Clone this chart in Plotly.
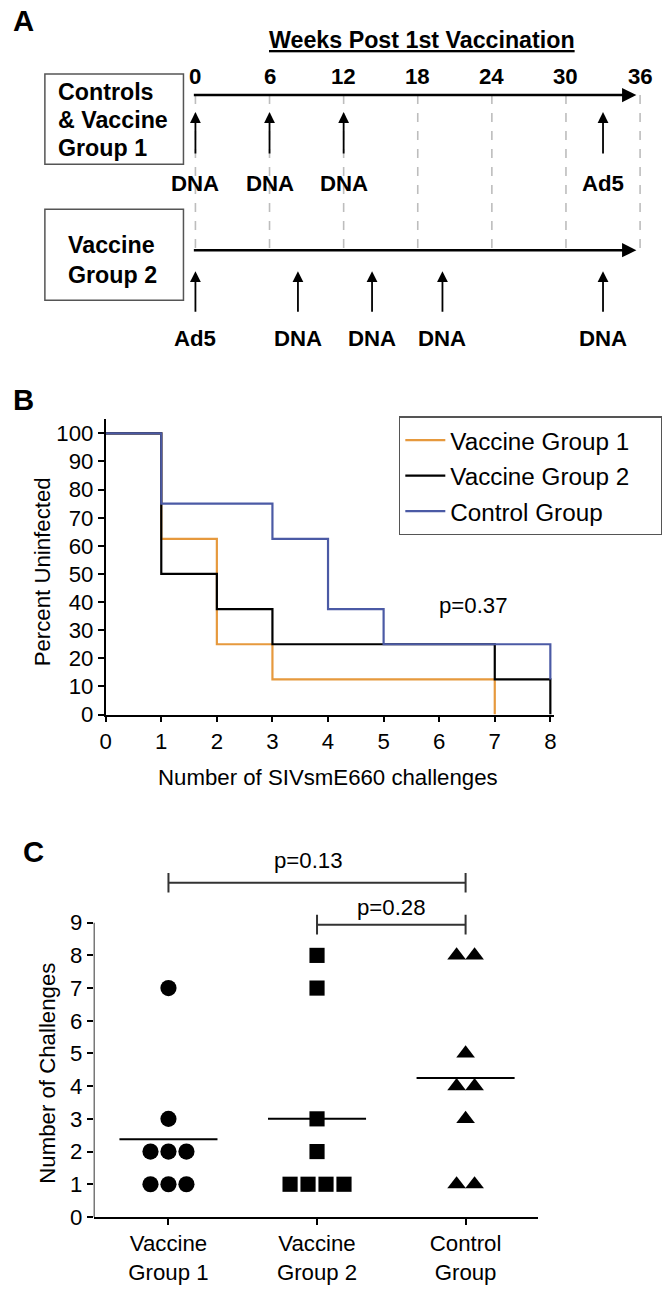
import numpy as np
import plotly.graph_objects as go

# reference-space size (all layout positions below are expressed in these pixels)
W, H = 662, 1289
# the capture in this environment is fitted from a slightly taller page; compensate
S = 1303 / 1289
FIG_W, FIG_H = round(W * S), 1303
FONT = "Liberation Sans, Arial, Helvetica, sans-serif"

# ---------------- Panel A data (vaccination schedule) ----------------
week_ticks = [0, 6, 12, 18, 24, 30, 36]
group1_dose_weeks = [0, 6, 12, 33]
group1_dose_labels = ["DNA", "DNA", "DNA", "Ad5"]
group2_dose_weeks = [0, 8.3, 14.3, 20, 33]
group2_dose_labels = ["Ad5", "DNA", "DNA", "DNA", "DNA"]
timeline_start_week = -0.25
timeline_end_week = 35.7

# ---------------- Panel B data (Kaplan-Meier) ----------------
challenge_ticks = [0, 1, 2, 3, 4, 5, 6, 7, 8]
percent_ticks = [0, 10, 20, 30, 40, 50, 60, 70, 80, 90, 100]
vg1_x = [0, 1, 2, 3, 7]
vg1_y = [100, 62.5, 25, 12.5, 0]
vg2_x = [0, 1, 2, 3, 7, 8]
vg2_y = [100, 50, 37.5, 25, 12.5, 0]
ctrl_x = [0, 1, 3, 4, 5, 8]
ctrl_y = [100, 75, 62.5, 37.5, 25, 12.5]
survival_p = "p=0.37"

# ---------------- Panel C data (challenges to infection) ----------------
group_labels = ["Vaccine<br>Group 1", "Vaccine<br>Group 2", "Control<br>Group"]
vg1_challenges = [7, 3, 2, 2, 2, 1, 1, 1]
vg2_challenges = [8, 7, 3, 2, 1, 1, 1, 1]
ctrl_challenges = [8, 8, 5, 4, 4, 3, 1, 1]
count_ticks = [0, 1, 2, 3, 4, 5, 6, 7, 8, 9]
p_vg1_ctrl = "p=0.13"
p_vg2_ctrl = "p=0.28"

ORANGE = "#E6993D"
BLUE = "#4B5AA5"


def pxx(x):
    return x / W


def pxy(y):
    return 1 - y / H


def fs(v):
    return v * S


fig = go.Figure()

# ---------- Panel B traces ----------
PAD = "\u00a0" * 4
for xs, ys, name, col in [(vg1_x, vg1_y, "Vaccine Group 1", ORANGE),
                          (vg2_x, vg2_y, "Vaccine Group 2", "black"),
                          (ctrl_x, ctrl_y, "Control Group", BLUE)]:
    fig.add_trace(go.Scatter(x=xs, y=ys, mode="lines", line=dict(shape="hv", color=col, width=2.2),
                             name=name + PAD, legendgroup=name, xaxis="x", yaxis="y"))

# ---------- Panel C traces ----------
def jitter(values, step):
    vals = np.array(values, dtype=float)
    off = np.zeros(len(vals))
    for v in np.unique(vals):
        idx = np.where(vals == v)[0]
        k = len(idx)
        off[idx] = (np.arange(k) - (k - 1) / 2) * step
    return off

STEP = 0.121
for gi, (vals, sym) in enumerate([(vg1_challenges, "circle"), (vg2_challenges, "square"),
                                  (ctrl_challenges, "triangle-up")]):
    xs = gi + jitter(vals, STEP)
    fig.add_trace(go.Scatter(x=xs, y=vals, mode="markers", showlegend=False,
                             marker=dict(symbol=sym, size=fs(16 if sym != "square" else 15), color="black"),
                             xaxis="x2", yaxis="y2", cliponaxis=False))
    m = float(np.mean(vals))
    fig.add_trace(go.Scatter(x=[gi - 0.33, gi + 0.33], y=[m, m], mode="lines", showlegend=False,
                             line=dict(color="black", width=2), xaxis="x2", yaxis="y2"))

# significance brackets
def bracket(x0, x1, y, h=0.3):
    return ([x0, x0, None, x0, x1, None, x1, x1], [y - h, y + h, None, y, y, None, y - h, y + h])

for (bx0, bx1, by) in [(0, 2, 10.22), (1, 2, 8.94)]:
    bxs, bys = bracket(bx0, bx1, by)
    fig.add_trace(go.Scatter(x=bxs, y=bys, mode="lines", showlegend=False,
                             line=dict(color="#333", width=2), xaxis="x2", yaxis="y2"))

# ---------- Panel A (schedule) ----------
wk_scale = 446 / 36.0
wk0 = 190
annotations = []
shapes = []

for w in week_ticks:
    shapes.append(dict(type="line", xref="x3", yref="y3", x0=w, x1=w, y0=95, y1=250,
                       line=dict(color="#BDBDBD", width=1.6, dash="dash")))
    annotations.append(dict(x=w, y=76, xref="x3", yref="y3", text="<b>%d</b>" % w, showarrow=False,
                            font=dict(size=fs(22), color="black", family=FONT), xanchor="center", yanchor="middle"))

for ty in [95, 250]:
    annotations.append(dict(x=timeline_end_week, y=ty, ax=timeline_start_week, ay=ty, xref="x3", yref="y3",
                            axref="x3", ayref="y3", text="", showarrow=True, arrowhead=2, arrowsize=1.1,
                            arrowwidth=2.6, arrowcolor="black", standoff=0, startstandoff=0))

for w, lab in zip(group1_dose_weeks, group1_dose_labels):
    annotations.append(dict(x=w, y=112, ax=w, ay=155, xref="x3", yref="y3", axref="x3", ayref="y3",
                            text="", showarrow=True, arrowhead=2, arrowsize=1.2, arrowwidth=1.8,
                            arrowcolor="black", standoff=0))
    annotations.append(dict(x=w, y=183, xref="x3", yref="y3", text="<b>%s</b>" % lab, showarrow=False,
                            font=dict(size=fs(22), color="black", family=FONT), xanchor="center", yanchor="middle"))
for w, lab in zip(group2_dose_weeks, group2_dose_labels):
    annotations.append(dict(x=w, y=271, ax=w, ay=313, xref="x3", yref="y3", axref="x3", ayref="y3",
                            text="", showarrow=True, arrowhead=2, arrowsize=1.2, arrowwidth=1.8,
                            arrowcolor="black", standoff=0))
    annotations.append(dict(x=w, y=338, xref="x3", yref="y3", text="<b>%s</b>" % lab, showarrow=False,
                            font=dict(size=fs(22), color="black", family=FONT), xanchor="center", yanchor="middle"))

for (y0, y1) in [(74, 164), (209, 300)]:
    shapes.append(dict(type="rect", xref="paper", yref="paper", x0=pxx(39), x1=pxx(178),
                       y0=pxy(y1), y1=pxy(y0), line=dict(color="#555", width=1.5)))
for txt, yy in [("Controls", 92), ("& Vaccine", 120), ("Group 1", 148)]:
    annotations.append(dict(x=pxx(50), y=pxy(yy), xref="paper", yref="paper", text="<b>%s</b>" % txt,
                            showarrow=False, xanchor="left", yanchor="middle",
                            font=dict(size=fs(23), color="black", family=FONT)))
for txt, yy in [("Vaccine", 245), ("Group 2", 275)]:
    annotations.append(dict(x=pxx(60), y=pxy(yy), xref="paper", yref="paper", text="<b>%s</b>" % txt,
                            showarrow=False, xanchor="left", yanchor="middle",
                            font=dict(size=fs(23), color="black", family=FONT)))

annotations.append(dict(x=pxx(417), y=pxy(40), xref="paper", yref="paper",
                        text="<b><u>Weeks Post 1st Vaccination</u></b>", showarrow=False,
                        font=dict(size=fs(23), color="black", family=FONT), xanchor="center", yanchor="middle"))

for letter, xx, yy in [("A", 18, 20), ("B", 18, 399), ("C", 28, 851)]:
    annotations.append(dict(x=pxx(xx), y=pxy(yy), xref="paper", yref="paper", text="<b>%s</b>" % letter,
                            showarrow=False, xanchor="center", yanchor="middle",
                            font=dict(size=fs(29), color="black", family=FONT)))

annotations.append(dict(x=pxx(506), y=pxy(605), xref="paper", yref="paper", text=survival_p,
                        showarrow=False, font=dict(size=fs(22), color="black", family=FONT)))
annotations.append(dict(x=pxx(323), y=pxy(777), xref="paper", yref="paper",
                        text="Number of SIVsmE660 challenges", showarrow=False,
                        font=dict(size=fs(22), color="black", family=FONT), yanchor="middle"))
annotations.append(dict(x=pxx(37), y=pxy(571), xref="paper", yref="paper",
                        text="Percent Uninfected", showarrow=False, textangle=-90,
                        font=dict(size=fs(22), color="black", family=FONT), xanchor="center", yanchor="middle"))

annotations.append(dict(x=0.94, y=10.9, xref="x2", yref="y2", text=p_vg1_ctrl, showarrow=False,
                        font=dict(size=fs(22), color="black", family=FONT)))
annotations.append(dict(x=1.5, y=9.45, xref="x2", yref="y2", text=p_vg2_ctrl, showarrow=False,
                        font=dict(size=fs(22), color="black", family=FONT)))
annotations.append(dict(x=pxx(42), y=pxy(1072), xref="paper", yref="paper",
                        text="Number of Challenges", showarrow=False, textangle=-90,
                        font=dict(size=fs(22), color="black", family=FONT), xanchor="center", yanchor="middle"))

# panel C y-axis spine (only up to 9)
shapes.append(dict(type="line", xref="x2", yref="y2", x0=-0.503, x1=-0.503, y0=0, y1=9,
                   line=dict(color="black", width=1.6)))

axis_common = dict(showgrid=False, zeroline=False, ticks="outside", ticklen=6, tickwidth=1.5,
                   tickcolor="black", linecolor="black", linewidth=1.6,
                   tickfont=dict(size=fs(22), color="black", family=FONT))

B_X0, B_UNIT = 100, 55.75
b_xmax = 8.06
C_UNIT = 32.67

fig.update_layout(
    width=FIG_W, height=FIG_H, margin=dict(l=0, r=0, t=0, b=0),
    paper_bgcolor="white", plot_bgcolor="rgba(0,0,0,0)",
    font=dict(family=FONT, color="black"),
    xaxis=dict(domain=[pxx(B_X0), pxx(B_X0 + b_xmax * B_UNIT)], range=[0, b_xmax], anchor="y",
               tickvals=challenge_ticks, showline=True, **axis_common),
    yaxis=dict(domain=[pxy(714), pxy(714 - 105 * 2.81)], range=[0, 105], anchor="x",
               tickvals=percent_ticks, showline=True, **axis_common),
    xaxis2=dict(domain=[pxx(88), pxx(534)], range=[-0.503, 2.49], anchor="y2",
                tickvals=[0, 1, 2], ticktext=group_labels, showline=True, **axis_common),
    yaxis2=dict(domain=[pxy(1216), pxy(1216 - 11 * C_UNIT)], range=[0, 11], anchor="x2",
                tickvals=count_ticks, showline=False, **axis_common),
    xaxis3=dict(domain=[0, 1], range=[-wk0 / wk_scale, (W - wk0) / wk_scale], anchor="y3",
                visible=False, fixedrange=True),
    yaxis3=dict(domain=[0, 1], range=[H, 0], anchor="x3", visible=False, fixedrange=True),
    legend=dict(x=pxx(394), y=pxy(416), xanchor="left", yanchor="top", bordercolor="#555",
                borderwidth=1.5, bgcolor="white", font=dict(size=fs(24), color="black", family=FONT),
                tracegroupgap=1, itemwidth=40),
    shapes=shapes, annotations=annotations,
)

POST = "document.body.style.margin='0';document.body.style.padding='0';"

fig.write_html("out.html", config={"displayModeBar": False}, post_script=POST)
